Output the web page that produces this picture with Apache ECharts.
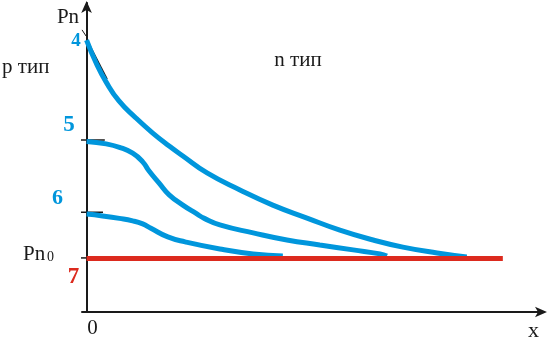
<!DOCTYPE html>
<html>
<head>
<meta charset="utf-8">
<script src="https://cdn.jsdelivr.net/npm/echarts@6/dist/echarts.min.js"></script>
<style>html,body{margin:0;padding:0;background:#fff}#c{width:547px;height:340px}</style>
</head>
<body>
<div id="c"></div>
<script>
// Curve data (x, Pn in arbitrary units)
var curve4 = [[0,8.80],[0.21,8.06],[0.43,7.44],[0.71,6.83],[1.08,6.28],[1.45,5.79],[1.81,5.37],[2.11,5.05],[2.64,4.50],[3.36,3.95],[4.08,3.46],[4.83,3.04],[5.55,2.65],[6.28,2.33],[6.93,2.10],[7.68,1.91],[8.33,1.78]];
var curve5 = [[0,5.52],[0.43,5.44],[0.72,5.33],[1.01,5.14],[1.23,4.86],[1.37,4.56],[1.59,4.17],[1.81,3.79],[2.11,3.46],[2.40,3.19],[2.58,3.03],[2.92,2.82],[3.65,2.56],[4.39,2.33],[5.11,2.17],[5.84,2.01],[6.43,1.88],[6.58,1.81]];
var curve6 = [[0,3.17],[0.35,3.11],[0.72,3.03],[1.01,2.95],[1.23,2.85],[1.41,2.71],[1.78,2.43],[2.16,2.27],[2.92,2.04],[3.65,1.88],[4.30,1.81]];
var pn0Line = [[0,1.73],[9.12,1.73]];
var tick5 = [[-0.43,5.57],[0.40,5.57]];
var tick6 = [[-0.52,3.23],[0.36,3.23]];
var tickPn0 = [[-0.58,1.75],[0,1.75]];
var tangent4 = [[0.01,8.80],[0.45,7.54]];
var pnLeader = [[-0.10,9.13],[-0.01,8.93]];
var curveLabels = ['4','5','6','7'];

var BLUE = '#0096dc', RED = '#dc2a1e', INK = '#1a1a1a';
var SERIF = '"Liberation Serif", "Times New Roman", serif';

function lineSeries(data, color, width, z) {
  return {type:'line', data:data, clip:false, symbol:'none', silent:true, z:z,
    lineStyle:{color:color, width:width}, animation:false};
}
function txt(x, y, s, size, color, weight, align) {
  return {type:'text', x:x, y:y, style:{text:s, fontFamily:SERIF, fontSize:size,
    fontWeight:weight || 'normal', fill:color, align:align || 'center', verticalAlign:'middle'}};
}

var chart = echarts.init(document.getElementById('c'), null, {renderer:'canvas'});
chart.setOption({
  animation:false,
  grid:{left:82, right:4, top:3, bottom:28},
  xAxis:{type:'value', min:-0.1, max:10, splitLine:{show:false},
    axisLabel:{show:false}, axisTick:{show:false},
    axisLine:{show:true, onZero:true, symbol:['none','arrow'], symbolSize:[8,12], symbolOffset:[0,4],
      lineStyle:{color:INK, width:2}}},
  yAxis:{type:'value', min:0, max:10, splitLine:{show:false},
    axisLabel:{show:false}, axisTick:{show:false},
    axisLine:{show:true, onZero:true, symbol:['none','arrow'], symbolSize:[8,12], symbolOffset:[0,2],
      lineStyle:{color:INK, width:2}}},
  series:[
    Object.assign(lineSeries(curve4, BLUE, 5, 3), {smooth:0.5}),
    Object.assign(lineSeries(curve5, BLUE, 5, 3), {smooth:0.5}),
    Object.assign(lineSeries(curve6, BLUE, 5, 3), {smooth:0.5}),
    lineSeries(pn0Line, RED, 5, 4),
    lineSeries(tick5, INK, 1.5, 2),
    lineSeries(tick6, INK, 1.5, 2),
    lineSeries(tickPn0, INK, 1.5, 2),
    lineSeries(tangent4, INK, 1.5, 2),
    lineSeries(pnLeader, INK, 1, 2)
  ],
  graphic:[
    txt(68, 17, 'Pn', 21, INK),
    txt(2, 67, 'p тип', 21, INK, 'normal', 'left'),
    txt(298, 60, 'n тип', 21, INK),
    txt(23, 254, 'Pn', 21, INK, 'normal', 'left'),
    txt(47, 257, '0', 14, INK, 'normal', 'left'),
    txt(92.5, 328, '0', 21, INK),
    txt(533.5, 331, 'x', 22, INK),
    txt(76, 41, curveLabels[0], 19, BLUE, 'bold'),
    txt(69, 125, curveLabels[1], 23, BLUE, 'bold'),
    txt(57.5, 198, curveLabels[2], 22, BLUE, 'bold'),
    txt(73.5, 277.5, curveLabels[3], 23, RED, 'bold')
  ]
});
</script>
</body>
</html>
